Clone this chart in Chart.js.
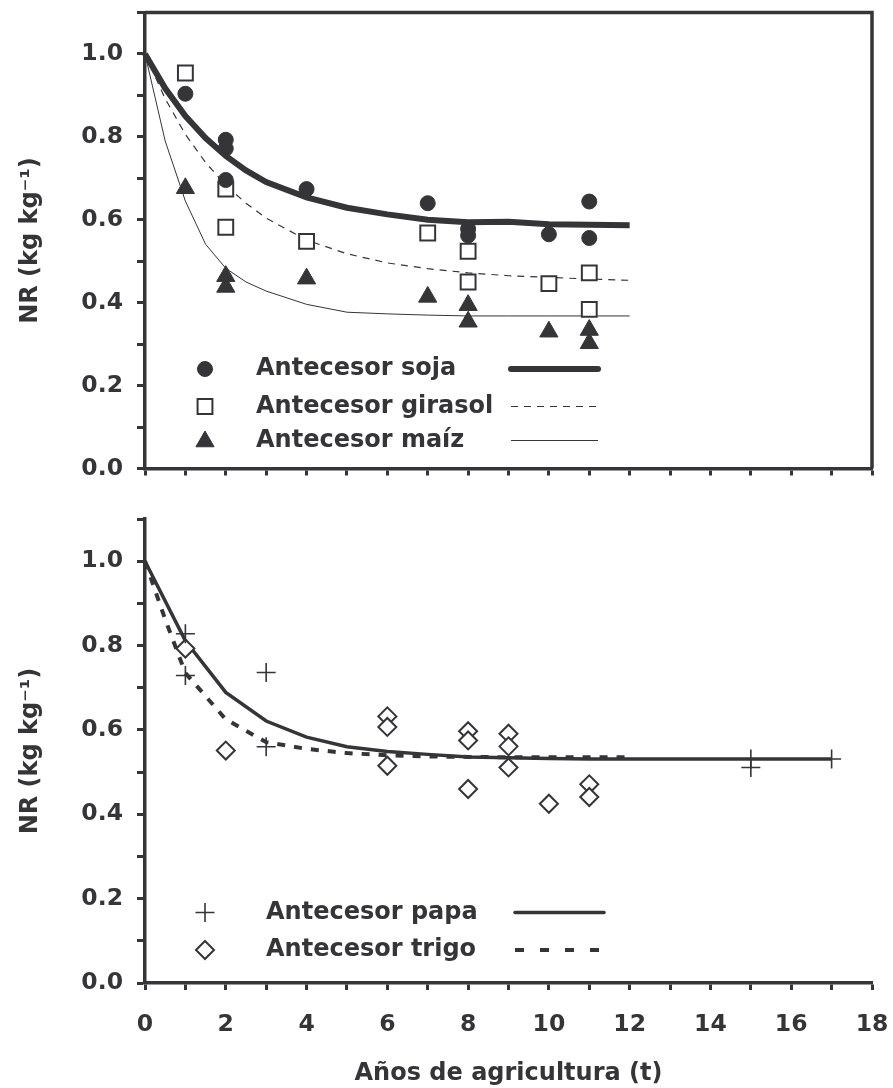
<!DOCTYPE html>
<html>
<head>
<meta charset="utf-8">
<script src="https://cdn.jsdelivr.net/npm/chart.js@4.4.0/dist/chart.umd.min.js"></script>
<style>
  body { margin: 0; background: #fff; }
  .panel { position: absolute; left: 0; width: 893px; }
  #top { top: 0; height: 490px; }
  #bottom { top: 490px; height: 598px; }
</style>
</head>
<body>
<div class="panel" id="top"><canvas id="chartTop"></canvas></div>
<div class="panel" id="bottom"><canvas id="chartBottom"></canvas></div>
<script>
// Panel superior: cultivos antecesores soja, girasol, maíz
const yearsSoja = [1, 2, 2, 2, 4, 7, 8, 8, 10, 11, 11];
const nrSoja = [0.904, 0.793, 0.772, 0.696, 0.674, 0.640, 0.578, 0.562, 0.565, 0.644, 0.556];
const yearsGirasol = [1, 2, 2, 4, 7, 8, 8, 10, 11, 11];
const nrGirasol = [0.954, 0.674, 0.582, 0.548, 0.568, 0.524, 0.450, 0.446, 0.472, 0.384];
const yearsMaiz = [1, 2, 2, 4, 7, 8, 8, 10, 11, 11];
const nrMaiz = [0.676, 0.464, 0.438, 0.458, 0.414, 0.394, 0.354, 0.330, 0.334, 0.302];

// curvas ajustadas del panel superior
const tFitTop = [0, 0.5, 1, 1.5, 2, 2.5, 3, 4, 5, 6, 7, 8, 9, 10, 11, 12];
const fitSoja = [1.0, 0.917, 0.850, 0.797, 0.754, 0.719, 0.691, 0.654, 0.629, 0.613, 0.600, 0.594, 0.595, 0.589, 0.588, 0.587];
const fitGirasol = [1.0, 0.892, 0.806, 0.738, 0.683, 0.640, 0.604, 0.551, 0.518, 0.496, 0.482, 0.472, 0.465, 0.461, 0.457, 0.454];
const fitMaiz = [1.0, 0.790, 0.645, 0.541, 0.483, 0.450, 0.428, 0.396, 0.377, 0.373, 0.370, 0.368, 0.368, 0.368, 0.368, 0.368];

// Panel inferior: antecesores papa y trigo
const yearsPapa = [1, 1, 3, 3, 15, 15, 17];
const nrPapa = [0.828, 0.729, 0.736, 0.560, 0.531, 0.511, 0.531];
const yearsTrigo = [1, 2, 6, 6, 6, 8, 8, 8, 9, 9, 9, 10, 11, 11];
const nrTrigo = [0.793, 0.551, 0.632, 0.607, 0.515, 0.597, 0.575, 0.460, 0.591, 0.561, 0.511, 0.425, 0.471, 0.441];

const tFitPapa = [0, 1, 2, 3, 4, 5, 6, 7, 8, 9, 10, 11, 12, 13, 14, 15, 16, 17];
const fitPapa = [1.0, 0.811, 0.689, 0.621, 0.583, 0.560, 0.549, 0.542, 0.536, 0.534, 0.532, 0.531, 0.531, 0.531, 0.531, 0.531, 0.531, 0.531];
const tFitTrigo = [0, 0.5, 1, 2, 3, 4, 5, 6, 7, 8, 9, 10, 11, 12];
const fitTrigo = [1.0, 0.862, 0.735, 0.625, 0.571, 0.555, 0.545, 0.540, 0.537, 0.536, 0.535, 0.535, 0.535, 0.535];

const xTicksMax = 18;
const yTicksMax = 1.1;

const ink = '#353538';
const family = '"DejaVu Sans", Verdana, sans-serif';
const tickFont = { family: family, weight: 'bold', size: 23.5 };
const titleFont = { family: family, weight: 'bold', size: 24 };

const pairs = (xs, ys) => xs.map((x, i) => ({ x: x, y: ys[i] }));

function pointSet(label, xs, ys, style, radius, fill, borderWidth) {
    return {
        label: label,
        data: pairs(xs, ys),
        showLine: false,
        pointStyle: style,
        pointRadius: radius,
        pointHoverRadius: radius,
        pointBackgroundColor: fill,
        pointBorderColor: ink,
        pointBorderWidth: borderWidth,
        clip: false
    };
}

function fitSet(label, xs, ys, width, dash) {
    return {
        label: label,
        data: pairs(xs, ys),
        showLine: true,
        borderColor: ink,
        borderWidth: width,
        borderDash: dash,
        pointRadius: 0,
        pointHoverRadius: 0,
        tension: 0,
        fill: false,
        clip: false
    };
}

function makeScales(showXLabels, xAxisHeight) {
    return {
        x: {
            type: 'linear',
            min: 0,
            max: xTicksMax,
            ticks: {
                stepSize: 1,
                autoSkip: false,
                maxRotation: 0,
                color: ink,
                font: tickFont,
                padding: 21,
                callback: v => (showXLabels && v % 2 === 0) ? String(v) : ''
            },
            grid: { drawOnChartArea: false, drawTicks: true, tickLength: 7, tickWidth: 3, tickColor: ink },
            border: { display: true, color: ink, width: 3.5 },
            title: {
                display: showXLabels,
                text: 'Años de agricultura (t)',
                color: ink,
                font: titleFont,
                padding: { top: 0, bottom: 0 }
            },
            afterFit: s => { s.height = xAxisHeight; s.paddingLeft = 0; s.paddingRight = 0; }
        },
        y: {
            type: 'linear',
            min: 0,
            max: yTicksMax,
            ticks: {
                stepSize: 0.1,
                autoSkip: false,
                color: ink,
                font: tickFont,
                padding: 14,
                callback: v => (Math.round(v * 10) % 2 === 0) ? v.toFixed(1) : ''
            },
            grid: { drawOnChartArea: false, drawTicks: true, tickLength: 8, tickWidth: 3, tickColor: ink },
            border: { display: true, color: ink, width: 3.5 },
            title: {
                display: true,
                text: 'NR (kg kg⁻¹)',
                color: ink,
                font: titleFont,
                padding: { top: 16, bottom: 0 }
            },
            afterFit: s => { s.width = 145; s.paddingTop = 0; s.paddingBottom = 0; }
        }
    };
}

// leyenda propia: símbolo, texto y muestra de la curva en cada fila
const rowLegend = {
    id: 'rowLegend',
    afterDatasetsDraw(chart, args, opts) {
        const ctx = chart.ctx;
        opts.rows.forEach(row => {
            const pts = chart.data.datasets[row.points];
            const fit = chart.data.datasets[row.fit];
            ctx.save();
            ctx.fillStyle = pts.pointBackgroundColor;
            ctx.strokeStyle = pts.pointBorderColor;
            ctx.lineWidth = pts.pointBorderWidth;
            Chart.helpers.drawPoint(ctx, {
                pointStyle: pts.pointStyle,
                radius: pts.pointRadius,
                borderWidth: pts.pointBorderWidth,
                rotation: 0
            }, opts.markerX, row.y + (row.markerDy || 0));
            ctx.restore();

            ctx.save();
            ctx.fillStyle = ink;
            ctx.font = 'bold 24px ' + family;
            ctx.textBaseline = 'middle';
            ctx.textAlign = 'left';
            ctx.fillText(pts.label, opts.textX, row.y);
            ctx.restore();

            ctx.save();
            ctx.strokeStyle = fit.borderColor;
            ctx.lineWidth = fit.borderWidth;
            ctx.setLineDash(row.dash || fit.borderDash || []);
            ctx.lineCap = row.cap || 'butt';
            ctx.beginPath();
            ctx.moveTo(opts.lineFrom, row.y);
            ctx.lineTo(opts.lineTo, row.y);
            ctx.stroke();
            ctx.restore();
        });
    }
};

// marco superior y derecho del panel de arriba
const frame = {
    id: 'frame',
    afterDraw(chart, args, opts) {
        if (!opts.show) return;
        const a = chart.chartArea;
        const ctx = chart.ctx;
        ctx.save();
        ctx.strokeStyle = ink;
        ctx.lineWidth = 3.5;
        ctx.beginPath();
        ctx.moveTo(a.left, a.top);
        ctx.lineTo(a.right, a.top);
        ctx.lineTo(a.right, a.bottom);
        ctx.stroke();
        ctx.restore();
    }
};

const baseOptions = {
    responsive: true,
    maintainAspectRatio: false,
    animation: false,
    events: []
};

new Chart(document.getElementById('chartTop'), {
    type: 'scatter',
    data: {
        datasets: [
            pointSet('Antecesor soja', yearsSoja, nrSoja, 'circle', 7.5, ink, 1),
            pointSet('Antecesor girasol', yearsGirasol, nrGirasol, 'rect', 10.5, '#ffffff', 2),
            pointSet('Antecesor maíz', yearsMaiz, nrMaiz, 'triangle', 10.5, ink, 1),
            fitSet('Ajuste soja', tFitTop, fitSoja, 6, []),
            fitSet('Ajuste girasol', tFitTop, fitGirasol, 1.2, [7, 6]),
            fitSet('Ajuste maíz', tFitTop, fitMaiz, 1, [])
        ]
    },
    options: Object.assign({}, baseOptions, {
        layout: { padding: { top: 10, right: 21, left: 0, bottom: 0 } },
        scales: makeScales(false, 21.5),
        plugins: {
            legend: { display: false },
            tooltip: { enabled: false },
            frame: { show: true },
            rowLegend: {
                markerX: 205, textX: 256, lineFrom: 511, lineTo: 598,
                rows: [
                    { points: 0, fit: 3, y: 369, cap: 'round' },
                    { points: 1, fit: 4, y: 406.5 },
                    { points: 2, fit: 5, y: 440.5, markerDy: 1 }
                ]
            }
        }
    }),
    plugins: [rowLegend, frame]
});

new Chart(document.getElementById('chartBottom'), {
    type: 'scatter',
    data: {
        datasets: [
            pointSet('Antecesor papa', yearsPapa, nrPapa, 'cross', 9.5, ink, 1.6),
            pointSet('Antecesor trigo', yearsTrigo, nrTrigo, 'rectRot', 9, '#ffffff', 2),
            fitSet('Ajuste papa', tFitPapa, fitPapa, 3.5, []),
            fitSet('Ajuste trigo', tFitTrigo, fitTrigo, 4, [8, 9])
        ]
    },
    options: Object.assign({}, baseOptions, {
        layout: { padding: { top: 29, right: 21, left: 0, bottom: 0 } },
        scales: makeScales(true, 105),
        plugins: {
            legend: { display: false },
            tooltip: { enabled: false },
            frame: { show: false },
            rowLegend: {
                markerX: 205, textX: 266, lineFrom: 515, lineTo: 604,
                rows: [
                    { points: 0, fit: 2, y: 422.5, cap: 'round' },
                    { points: 1, fit: 3, y: 460, dash: [9, 16] }
                ]
            }
        }
    }),
    plugins: [rowLegend, frame]
});
</script>
</body>
</html>
